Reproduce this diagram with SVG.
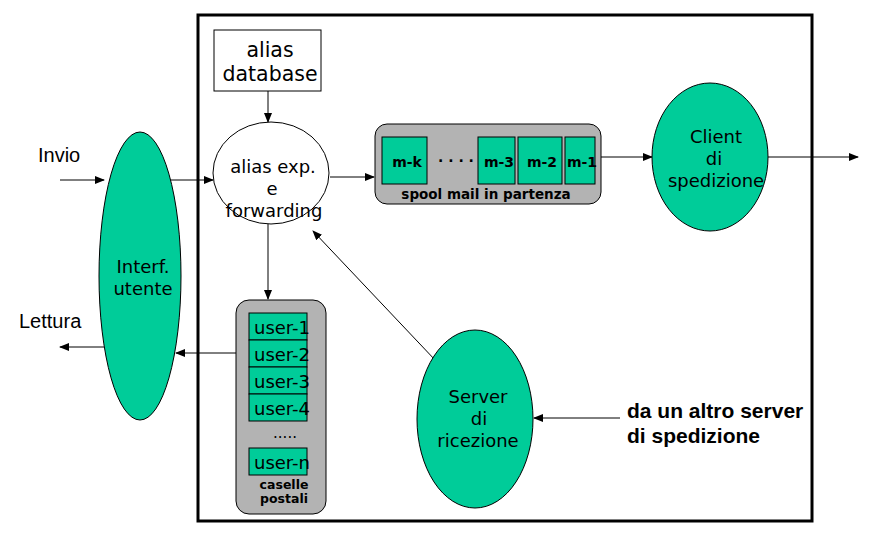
<svg xmlns="http://www.w3.org/2000/svg" width="880" height="534" viewBox="0 0 880 534">
<defs>
<marker id="ah" markerWidth="10" markerHeight="8" refX="9" refY="4" orient="auto" markerUnits="userSpaceOnUse">
<path d="M0,0 L10,4 L0,8 z" fill="#000"/>
</marker>
<style>
.t{font-family:"DejaVu Sans",Verdana,sans-serif;font-size:18px;fill:#000;text-anchor:middle}
.b{font-family:"DejaVu Sans",Verdana,sans-serif;font-weight:bold;font-size:13.5px;fill:#000;text-anchor:middle}
.l{font-family:"Liberation Sans",Arial,sans-serif;font-size:20px;fill:#000}
.lb{font-family:"Liberation Sans",Arial,sans-serif;font-size:21px;font-weight:bold;fill:#000}
.g{fill:#00cc99;stroke:#000;stroke-width:1}
.box{fill:#b3b3b3;stroke:#000;stroke-width:1}
.c{stroke:#000;stroke-width:1;fill:none;marker-end:url(#ah)}
</style>
</defs>
<rect width="880" height="534" fill="#fff"/>
<rect x="198" y="15" width="614" height="506" fill="none" stroke="#000" stroke-width="3"/>

<g id="connectors">
<line class="c" x1="60" y1="180" x2="104" y2="180"/>
<line class="c" x1="170" y1="180" x2="213" y2="180"/>
<line class="c" x1="104" y1="347" x2="60" y2="347"/>
<line class="c" x1="236" y1="353" x2="176" y2="353"/>
<line class="c" x1="268" y1="91" x2="268" y2="122"/>
<line class="c" x1="330" y1="177" x2="374" y2="177"/>
<line class="c" x1="268" y1="224" x2="268" y2="299"/>
<line class="c" x1="597" y1="157" x2="652" y2="157"/>
<line class="c" x1="768" y1="157" x2="858" y2="157"/>
<line class="c" x1="436" y1="361" x2="313" y2="231"/>
<line class="c" x1="620" y1="418" x2="534" y2="418"/>
</g>

<g id="invio"><text class="l" x="38" y="162">Invio</text></g>
<g id="lettura"><text class="l" x="19" y="328">Lettura</text></g>

<g id="interf">
<ellipse class="g" cx="140" cy="276" rx="41" ry="144"/>
<text class="t" x="143" y="273">Interf.</text>
<text class="t" x="143" y="295">utente</text>
</g>

<g id="aliasdb">
<rect x="214" y="30" width="107" height="61" fill="#fff" stroke="#000" stroke-width="1"/>
<text class="t" x="270" y="57" style="font-size:20.5px">alias</text>
<text class="t" x="270" y="81" style="font-size:20.5px">database</text>
</g>

<g id="aliasexp">
<ellipse cx="271" cy="173" rx="58" ry="51" fill="#fff" stroke="#000" stroke-width="1"/>
<text class="t" x="273" y="173">alias exp.</text>
<text class="t" x="272" y="195">e</text>
<text class="t" x="274" y="217">forwarding</text>
</g>

<g id="spool">
<rect class="box" x="375" y="124" width="226" height="80" rx="12"/>
<rect class="g" x="382" y="137" width="45" height="47"/>
<rect class="g" x="478" y="137" width="37" height="47"/>
<rect class="g" x="518" y="137" width="44" height="47"/>
<rect class="g" x="565" y="137" width="30" height="47"/>
<text class="b" x="407" y="167" style="font-size:14px">m-k</text>
<text class="b" x="456" y="166" style="font-size:14px">· · · ·</text>
<text class="b" x="499" y="167" style="font-size:14px">m-3</text>
<text class="b" x="542" y="167" style="font-size:14px">m-2</text>
<text class="b" x="582" y="167" style="font-size:14px">m-1</text>
<text class="b" x="486" y="199">spool mail in partenza</text>
</g>

<g id="client">
<ellipse class="g" cx="710" cy="157" rx="58" ry="74"/>
<text class="t" x="716" y="143">Client</text>
<text class="t" x="714" y="165">di</text>
<text class="t" x="716" y="187">spedizione</text>
</g>

<g id="caselle">
<rect class="box" x="236" y="300" width="90" height="214" rx="13"/>
<rect class="g" x="249" y="313" width="58" height="27"/>
<rect class="g" x="249" y="340" width="58" height="27"/>
<rect class="g" x="249" y="367" width="58" height="27"/>
<rect class="g" x="249" y="394" width="58" height="27"/>
<rect class="g" x="249" y="448" width="58" height="27"/>
<text class="t" x="282" y="334">user-1</text>
<text class="t" x="282" y="361">user-2</text>
<text class="t" x="282" y="388">user-3</text>
<text class="t" x="282" y="415">user-4</text>
<text class="t" x="285" y="438" style="font-size:15px">.....</text>
<text class="t" x="282" y="469">user-n</text>
<text class="b" x="284" y="489" style="font-size:12.5px">caselle</text>
<text class="b" x="284" y="503" style="font-size:12.5px">postali</text>
</g>

<g id="server">
<ellipse class="g" cx="475" cy="419" rx="58" ry="89"/>
<text class="t" x="478" y="403">Server</text>
<text class="t" x="479" y="425">di</text>
<text class="t" x="478" y="447">ricezione</text>
</g>

<g id="altro">
<text class="lb" x="627" y="418">da un altro server</text>
<text class="lb" x="627" y="443">di spedizione</text>
</g>
</svg>
